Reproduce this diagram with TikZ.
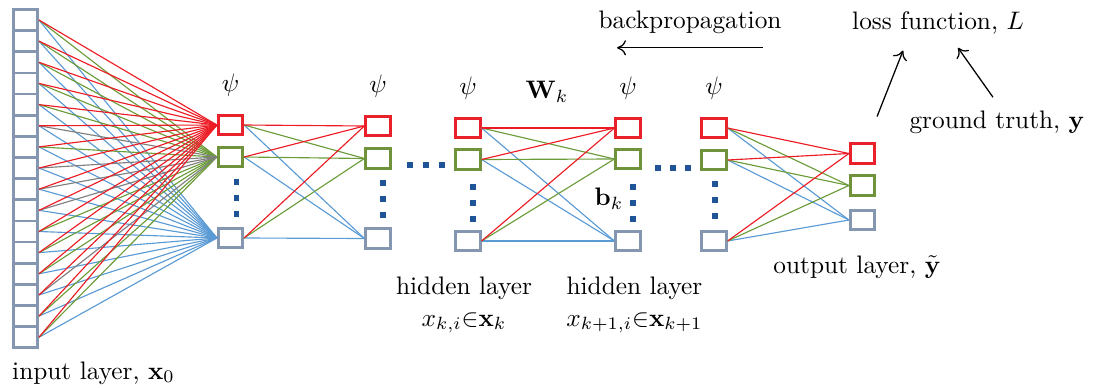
\documentclass[tikz,border=0pt]{standalone}
\usepackage{tikz}
\usetikzlibrary{arrows.meta}

\definecolor{boxred}{RGB}{232,33,43}
\definecolor{boxgreen}{RGB}{112,146,58}
\definecolor{boxgray}{RGB}{132,150,176}
\definecolor{linered}{RGB}{237,28,36}
\definecolor{linegreen}{RGB}{108,156,58}
\definecolor{lineblue}{RGB}{91,155,213}
\definecolor{linegray}{RGB}{127,127,127}
\definecolor{dotblue}{RGB}{31,85,151}

\tikzset{
    unit/.style={draw,fill=white,line width=1.05pt,minimum width=9.7pt,minimum height=7.7pt,inner sep=0pt},
    inunit/.style={draw=boxgray,fill=white,line width=1.05pt,minimum width=9.6pt,minimum height=8.35pt,inner sep=0pt},
    lbl/.style={inner sep=0pt},
    wire/.style={line width=0.45pt},
    arr/.style={-{To[length=3.5pt,width=6pt]},line width=0.5pt},
}

\begin{document}
\begin{tikzpicture}[x=0.395pt,y=-0.395pt]
    \useasboundingbox (0,0) rectangle (1093,388);
    \pgfmathtruncatemacro{\N}{16}
    % input layer
    \foreach \i in {1,...,\N}{
            \node[inunit] (in\i) at (25.5,{20+21.15*(\i-1)}) {};
        }
    % hidden layers and output layer
    \foreach \name/\x/\ya/\yb/\yc in {L1/230.5/125/157/238, L2/378/126/158.5/238.5, L3/468/128/159.5/241, L4/628/128/159/241, L5/714/128/160/241, out/862.5/153.5/185.5/220}{
            \node[unit,draw=boxred] (\name-1) at (\x,\ya) {};
            \node[unit,draw=boxgreen] (\name-2) at (\x,\yb) {};
            \node[unit,draw=boxgray] (\name-3) at (\x,\yc) {};
        }
    \foreach \name in {L1,L2,L3,L4,L5}{
            \node[lbl] (psi-\name) at ([yshift=11.3pt]\name-1.north) {$\psi$};
        }

    % input -> first hidden layer
    \foreach \i in {1,...,\N}{
            \draw[wire,lineblue] (in\i.east) -- (L1-3.west);
        }
    \foreach \i in {1,...,5,7,11,12,13,15,16}{
            \draw[wire,linegreen] (in\i.east) -- (L1-2.west);
        }
    \foreach \i in {6,8,9,10,14}{
            \draw[wire,linegray] (in\i.east) -- (L1-2.west);
        }
    \foreach \i in {1,...,\N}{
            \draw[wire,linered] (in\i.east) -- (L1-1.west);
        }

    % layer -> layer
    \foreach \a/\b in {L1/L2, L3/L4, L5/out}{
            \foreach \s in {1,2,3}{
                    \draw[wire,lineblue] (\a-\s.east) -- (\b-3.west);
                    \draw[wire,linegreen] (\a-\s.east) -- (\b-2.west);
                    \draw[wire,linered] (\a-\s.east) -- (\b-1.west);
                }
        }

    % dots
    \foreach \x/\y in {236.5/182, 383/183, 473/187, 633/187, 715/184}{
            \foreach \k in {0,1,2}{
                    \fill[dotblue] (\x-2.6,{\y+16*\k-2.6}) rectangle ++(5.2,5.2);
                }
        }
    \foreach \x/\y in {410/165, 426/165, 442/165, 658/168, 673/168, 688/168}{
            \fill[dotblue] (\x-2.6,\y-2.6) rectangle ++(5.2,5.2);
        }

    % labels
    \node[lbl] (Wk) at (547,92) {$\mathbf{W}_k$};
    \node[lbl] (bk) at (609,199) {$\mathbf{b}_k$};
    \node[lbl,align=center] (hid-k) at (464,305) {hidden layer\\[0.6pt]$x_{k,i}{\in}\mathbf{x}_k$};
    \node[lbl,align=center] (hid-kk) at (634.5,305) {hidden layer\\[0.6pt]$x_{k+1,i}{\in}\mathbf{x}_{k+1}$};
    \node[lbl] (in-label) at (93.5,373) {input layer, $\mathbf{x}_0$};
    \node[lbl] (out-label) at (857,267) {output layer, $\tilde{\mathbf{y}}$};
    \node[lbl] (bp) at (690,22) {backpropagation};
    \node[lbl] (loss) at (938,23) {loss function, $L$};
    \node[lbl] (gt) at (997,122) {ground truth, $\mathbf{y}$};

    % arrows
    \coordinate (bpR) at ([xshift=28.8pt,yshift=-5.5pt]bp.south);
    \coordinate (bpL) at ([xshift=-28.8pt,yshift=-5.5pt]bp.south);
    \coordinate (lossL) at ([xshift=-13.8pt,yshift=-6.2pt]loss.south);
    \coordinate (lossR) at ([xshift=7.9pt,yshift=-5.1pt]loss.south);
    \draw[arr] (bpR) -- (bpL);
    \draw[arr,shorten <=11pt] (out-1) -- (lossL);
    \draw[arr] ([xshift=-1.6pt,yshift=5.1pt]gt.north) -- (lossR);
\end{tikzpicture}
\end{document}
